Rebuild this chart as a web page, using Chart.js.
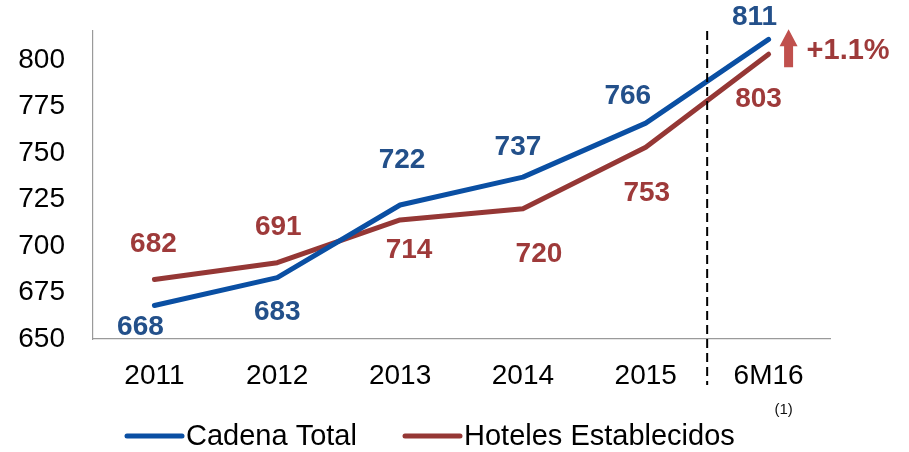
<!DOCTYPE html>
<html>
<head>
<meta charset="utf-8">
<script src="https://cdn.jsdelivr.net/npm/chart.js@4/dist/chart.umd.min.js"></script>
<style>
  html, body { margin: 0; padding: 0; background: #fff; }
  #wrap { width: 909px; height: 452px; position: relative; }
</style>
</head>
<body>
<div id="wrap"><canvas id="c" width="909" height="452"></canvas></div>
<script>
const categories = ['2011', '2012', '2013', '2014', '2015', '6M16'];
const cadenaTotal = [668, 683, 722, 737, 766, 811];
const hotelesEstablecidos = [682, 691, 714, 720, 753, 803];
const seriesNames = ['Cadena Total', 'Hoteles Establecidos'];
const yTickValues = [650, 675, 700, 725, 750, 775, 800];
const growthLabel = '+1.1%';
const footnoteLabel = '(1)';

// label offsets (pixels) relative to each point
const offsetsBlue = [[-14, 22], [0, 35], [2, -45], [-5, -30], [-18, -27], [-14, -22]];
const offsetsRed = [[-1, -35], [1, -35], [9, 30], [16, 46], [1, 46], [-10, 45]];

const FONT = '"Liberation Sans", Arial, sans-serif';
const BLUE = '#0A4FA3';
const BLUE_LBL = '#23508A';
const RED = '#953735';
const RED_LBL = '#9E3A3A';

const overlay = {
  id: 'overlay',
  afterDatasetsDraw(chart) {
    const ctx = chart.ctx;
    const xs = chart.scales.x, ys = chart.scales.y;
    const area = chart.chartArea;
    ctx.save();
    // dashed separator between 2015 and 6M16
    const xSep = (xs.getPixelForValue(4) + xs.getPixelForValue(5)) / 2;
    ctx.strokeStyle = '#000';
    ctx.lineWidth = 2;
    ctx.setLineDash([9, 5]);
    ctx.beginPath();
    ctx.moveTo(xSep, area.top);
    ctx.lineTo(xSep, 385);
    ctx.stroke();
    ctx.setLineDash([]);

    // data labels
    ctx.font = 'bold 28px ' + FONT;
    ctx.textAlign = 'center';
    ctx.textBaseline = 'middle';
    const offs = [offsetsBlue, offsetsRed];
    const cols = [BLUE_LBL, RED_LBL];
    chart.data.datasets.forEach((ds, di) => {
      const meta = chart.getDatasetMeta(di);
      ctx.fillStyle = cols[di];
      meta.data.forEach((pt, i) => {
        ctx.fillText(String(ds.data[i]), pt.x + offs[di][i][0], pt.y + offs[di][i][1]);
      });
    });

    // growth arrow
    const lastX = xs.getPixelForValue(categories.length - 1);
    const ax = lastX + 20;
    const aTop = ys.getPixelForValue(816.5), aBot = ys.getPixelForValue(796);
    ctx.fillStyle = '#C0504D';
    ctx.beginPath();
    ctx.moveTo(ax, aTop);
    ctx.lineTo(ax + 9, aTop + 17);
    ctx.lineTo(ax + 4.5, aTop + 17);
    ctx.lineTo(ax + 4.5, aBot);
    ctx.lineTo(ax - 4.5, aBot);
    ctx.lineTo(ax - 4.5, aTop + 17);
    ctx.lineTo(ax - 9, aTop + 17);
    ctx.closePath();
    ctx.fill();
    ctx.fillStyle = RED_LBL;
    ctx.font = 'bold 29px ' + FONT;
    ctx.textAlign = 'left';
    ctx.fillText(growthLabel, ax + 18, (aTop + aBot) / 2 + 3);

    // footnote
    ctx.fillStyle = '#111';
    ctx.font = '15px ' + FONT;
    ctx.textAlign = 'center';
    ctx.fillText(footnoteLabel, lastX + 15, 410);

    // legend
    const legendX = [[127, 182, 186], [405, 460, 464]];
    const ly = 436;
    chart.data.datasets.forEach((ds, di) => {
      const [x0, x1, tx] = legendX[di];
      ctx.strokeStyle = ds.borderColor;
      ctx.lineWidth = 5;
      ctx.lineCap = 'round';
      ctx.beginPath();
      ctx.moveTo(x0, ly);
      ctx.lineTo(x1, ly);
      ctx.stroke();
      ctx.fillStyle = '#000';
      ctx.font = '29px ' + FONT;
      ctx.textAlign = 'left';
      ctx.textBaseline = 'middle';
      ctx.fillText(ds.label, tx, ly + 1);
    });
    ctx.restore();
  }
};

new Chart(document.getElementById('c'), {
  type: 'line',
  data: {
    labels: categories,
    datasets: [
      { label: seriesNames[0], data: cadenaTotal, borderColor: BLUE, backgroundColor: BLUE,
        borderWidth: 5, pointRadius: 0, tension: 0, borderCapStyle: 'round', borderJoinStyle: 'round' },
      { label: seriesNames[1], data: hotelesEstablecidos, borderColor: RED, backgroundColor: RED,
        borderWidth: 5, pointRadius: 0, tension: 0, borderCapStyle: 'round', borderJoinStyle: 'round' }
    ]
  },
  options: {
    responsive: false,
    animation: false,
    devicePixelRatio: 1,
    layout: { padding: { left: 0, right: 79, top: 31, bottom: 0 } },
    plugins: { legend: { display: false }, tooltip: { enabled: false } },
    scales: {
      x: {
        offset: true,
        grid: { display: false, drawTicks: false },
        border: { display: true, color: '#9a9a9a', width: 1.2 },
        ticks: { color: '#000', font: { family: FONT, size: 28 }, padding: 20, maxRotation: 0 },
        afterFit(s) { s.height = 113; }
      },
      y: {
        min: 650, max: 815.5,
        grid: { display: false, drawTicks: false },
        border: { display: true, color: '#9a9a9a', width: 1.2 },
        ticks: { color: '#000', font: { family: FONT, size: 28 }, padding: 28 },
        afterBuildTicks(s) { s.ticks = yTickValues.map(v => ({ value: v })); },
        afterFit(s) { s.width = 93; s.paddingTop = 0; s.paddingBottom = 0; }
      }
    }
  },
  plugins: [overlay]
});
</script>
</body>
</html>
